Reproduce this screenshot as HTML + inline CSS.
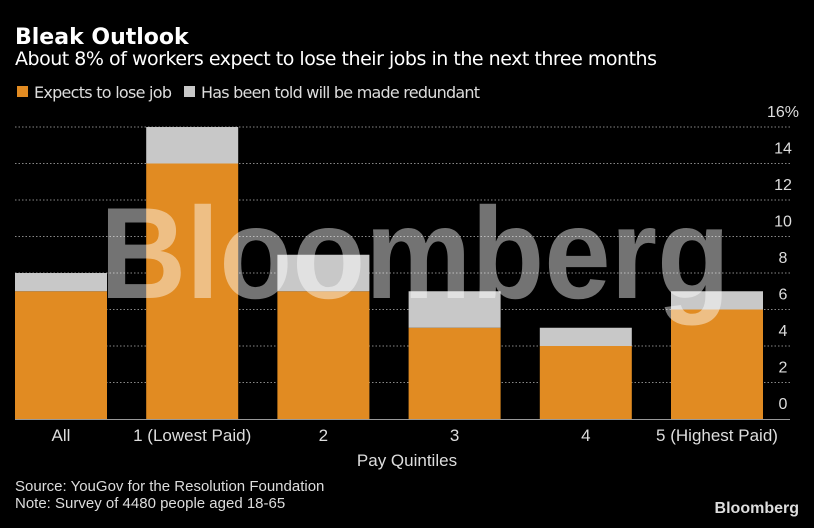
<!DOCTYPE html>
<html><head><meta charset="utf-8"><style>
body{margin:0;background:#000;width:814px;height:523px;overflow:hidden;font-family:"Liberation Sans Narrow","Liberation Sans",sans-serif;}
svg text{font-family:"Liberation Sans Narrow","Liberation Sans",sans-serif;}
</style></head><body>
<svg id="chart" width="814" height="523" xmlns="http://www.w3.org/2000/svg">
<rect width="814" height="523" fill="#000"/>
<text x="15" y="44" fill="#fff" font-size="22" font-weight="bold" style="font-family:'DejaVu Sans',sans-serif">Bleak Outlook</text>
<text x="15" y="65" fill="#fff" font-size="19" style="font-family:'DejaVu Sans',sans-serif" textLength="642">About 8% of workers expect to lose their jobs in the next three months</text>
<g>
<rect x="17" y="86" width="11" height="11" fill="#e18b22"/>
<text x="34" y="98" fill="#ddd" font-size="16" style="font-family:'DejaVu Sans',sans-serif" textLength="138">Expects to lose job</text>
<rect x="184" y="86" width="11" height="11" fill="#c8c8c8"/>
<text x="201" y="98" fill="#ddd" font-size="16" style="font-family:'DejaVu Sans',sans-serif" textLength="279">Has been told will be made redundant</text>
</g>
<g id="grid"></g>
<g id="bars"></g>
<text x="415" y="298" text-anchor="middle" fill="#fff" fill-opacity="0.45" font-size="130" font-weight="bold" style="font-family:'Liberation Sans',sans-serif" textLength="630" lengthAdjust="spacingAndGlyphs">Bloomberg</text>
<g id="xlabels"></g>
<text x="407" y="466" text-anchor="middle" fill="#ddd" font-size="17">Pay Quintiles</text>
<text x="15" y="491" fill="#ddd" font-size="15">Source: YouGov for the Resolution Foundation</text>
<text x="15" y="508" fill="#ddd" font-size="15">Note: Survey of 4480 people aged 18-65</text>
<text x="799" y="513" text-anchor="end" fill="#ddd" font-size="16" font-weight="bold">Bloomberg</text>
</svg>
<script>
const categories=["All","1 (Lowest Paid)","2","3","4","5 (Highest Paid)"];
const expects=[7,14,7,5,4,6];
const told=[1,2,2,2,1,1];
const ticks=[0,2,4,6,8,10,12,14,16];
const NS="http://www.w3.org/2000/svg";
const y0=419,yTop=127,maxV=16;
const y=v=>y0-(y0-yTop)*v/maxV;
const x=i=>15+i*131.2;
const bw=92;
function mk(t,a,p){const e=document.createElementNS(NS,t);for(const k in a)e.setAttribute(k,a[k]);p.appendChild(e);return e;}
const grid=document.getElementById('grid');
ticks.forEach(t=>{
 if(t>0){const l=mk('line',{x1:15,x2:790,y1:y(t),y2:y(t),stroke:'#888','stroke-dasharray':'1.5,2','stroke-width':1},grid);
 
 }
 const tx=mk('text',{x:783,y:y(t)-10,'text-anchor':'middle',fill:'#ddd','font-size':16},grid);
 tx.textContent=t===16?'16%':String(t);
 
 
});
const bars=document.getElementById('bars');
categories.forEach((c,i)=>{
 const r1=mk('rect',{x:x(i),y:y(expects[i]),width:bw,height:y0-y(expects[i]),fill:'#e18b22'},bars);
 
 
 const tot=expects[i]+told[i];
 const r2=mk('rect',{x:x(i),y:y(tot),width:bw,height:y(expects[i])-y(tot),fill:'#c8c8c8'},bars);
 
 
 const t=mk('text',{x:x(i)+bw/2,y:441,'text-anchor':'middle',fill:'#ddd','font-size':17},document.getElementById('xlabels'));
 t.textContent=c;
 
 
});
const ax=mk('line',{x1:15,x2:790,y1:y0+0.5,y2:y0+0.5,stroke:'#999','stroke-width':1},bars);


</script>
</body></html>
